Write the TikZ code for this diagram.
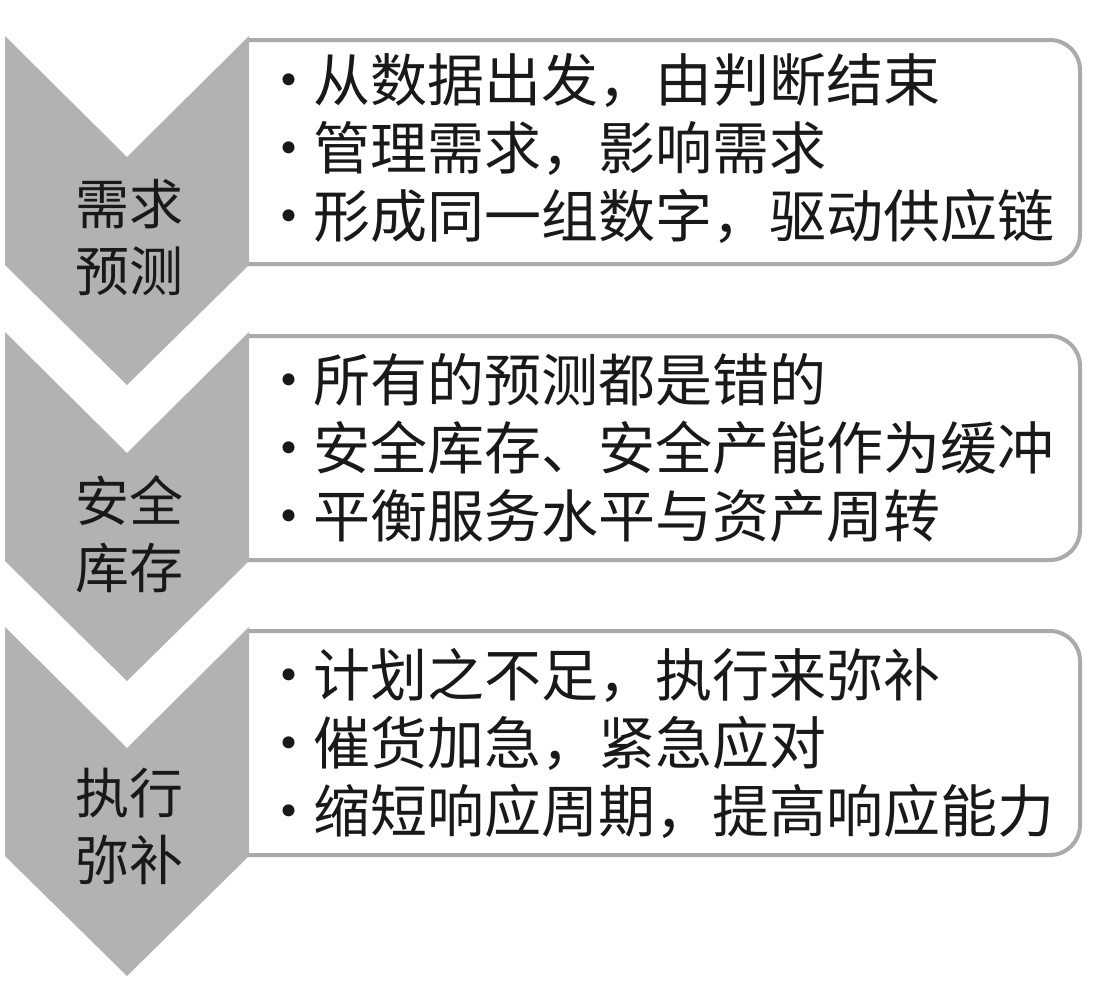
\documentclass[tikz,border=0pt]{standalone}
\usepackage{fontspec}
\newfontfamily\cjk{Noto Sans CJK SC}
\usetikzlibrary{positioning}
\definecolor{chevgray}{RGB}{178,178,178}
\definecolor{boxgray}{RGB}{170,170,170}
\newcommand\pdot{•\kern-4pt}

\begin{document}
\begin{tikzpicture}
                [x=1pt, y=-1pt,
                 chev/.style={fill=chevgray},
                 tag/.style={font=\cjk\fontsize{54}{67}\selectfont, align=center, text=black!90},
                 panel/.style={draw=boxgray, line width=4pt, fill=white, rounded corners=30pt,
                   minimum width=880pt, minimum height=224pt},
                 items/.style={align=left, inner sep=0pt, text=black!90, font=\cjk\fontsize{57}{68}\selectfont}]
                \useasboundingbox (0,0) rectangle (1120,1007);
                \begin{scope}
                \clip (248,0) rectangle (1120,1007);
                \node[panel] (forecast) at (640,152) { };
                \node[panel] (buffer) [below=68pt of forecast] { };
                \node[panel] (execute) [below=67pt of buffer] { };
                \end{scope}
                \node[items] (forecasttxt) [right=62pt of forecast.west, yshift=4pt] {\pdot 从数据出发，由判断结束\\\pdot 管理需求，影响需求\\\pdot 形成同一组数字，驱动供应链};
                \node[items] (buffertxt) [right=62pt of buffer.west] {\pdot 所有的预测都是错的\\\pdot 安全库存、安全产能作为缓冲\\\pdot 平衡服务水平与资产周转};
                \node[items] (executetxt) [right=62pt of execute.west] {\pdot 计划之不足，执行来弥补\\\pdot 催货加急，紧急应对\\\pdot 缩短响应周期，提高响应能力};
                \fill[chev] (5,36) -- (127,157) -- (249,36) -- (249,265) -- (127,385) -- (5,265) -- cycle;
                \fill[chev] (5,332) -- (127,453) -- (249,332) -- (249,561) -- (127,681) -- (5,561) -- cycle;
                \fill[chev] (5,627) -- (127,748) -- (249,627) -- (249,856) -- (127,976) -- (5,856) -- cycle;
                \node[tag] (forecastlbl) at (129,238) {需求\\预测};
                \node[tag] (bufferlbl) at (129,534) {安全\\库存};
                \node[tag] (executelbl) at (129,826) {执行\\弥补};
            \end{tikzpicture}
\end{document}
